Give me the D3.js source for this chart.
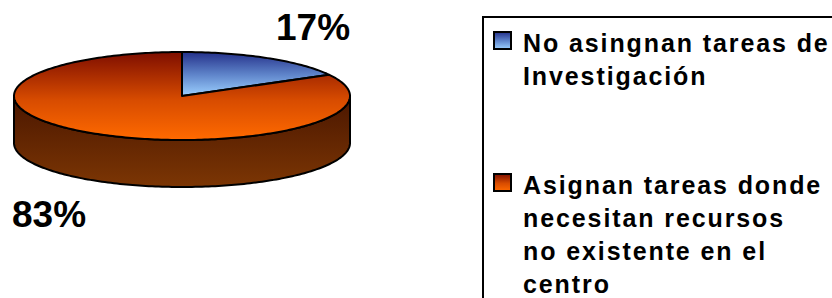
<!DOCTYPE html>
<html>
<head>
<meta charset="utf-8">
<script src="https://cdn.jsdelivr.net/npm/d3@7"></script>
<style>
  body { margin: 0; background: #fff; }
  text { font-family: "Liberation Sans", Arial, sans-serif; font-weight: bold; }
</style>
</head>
<body>
<div id="wrapper"></div>
<script>
// Chart data
const categories = ["No asingnan tareas de Investigación", "Asignan tareas donde necesitan recursos no existente en el centro"];
const values = [17, 83];
const valueLabels = ["17%", "83%"];
// legend lines, broken as in the picture
const legendLines = [
  ["No asingnan tareas de", "Investigación"],
  ["Asignan tareas donde", "necesitan recursos", "no existente en el", "centro"]
];

const width = 832, height = 298;

const svg = d3.select("#wrapper")
  .append("svg")
  .attr("width", width)
  .attr("height", height);

// gradients
const defs = svg.append("defs");
const addGrad = (id, stops) => {
  const g = defs.append("linearGradient").attr("id", id)
    .attr("x1", 0).attr("y1", 0).attr("x2", 0).attr("y2", 1);
  stops.forEach(s => g.append("stop").attr("offset", s[0]).attr("stop-color", s[1]));
};
addGrad("topBlue", [[0, "#24308a"], [0.5, "#5d82c8"], [1, "#9cd0ff"]]);
addGrad("topOrange", [[0, "#7e0e00"], [0.55, "#d84c00"], [1, "#ff6a00"]]);
addGrad("side", [[0, "#4a1600"], [1, "#7c3604"]]);
const topFills = ["url(#topBlue)", "url(#topOrange)"];

// pie geometry (tilted ellipse)
const cx = 182, cy = 96, rx = 168, ry = 44, depth = 47;

const pie = d3.pie().sort(null).value(d => d);
const arcs = pie(values);

const pt = (a, dy = 0) => [cx + rx * Math.sin(a), cy - ry * Math.cos(a) + dy];
const line = d3.line();
const sample = (a0, a1, dy) => {
  const n = Math.max(2, Math.ceil(Math.abs(a1 - a0) / 0.02));
  return d3.range(n + 1).map(i => pt(a0 + (a1 - a0) * i / n, dy));
};

// sides (only front half visible)
arcs.forEach((d, i) => {
  const a0 = Math.max(d.startAngle, Math.PI / 2);
  const a1 = Math.min(d.endAngle, Math.PI * 1.5);
  if (a1 <= a0) return;
  const pts = sample(a0, a1, 0).concat(sample(a1, a0, depth));
  svg.append("path")
    .attr("d", line(pts) + "Z")
    .attr("fill", "url(#side)")
    .attr("stroke", "#000")
    .attr("stroke-width", 2)
    .attr("stroke-linejoin", "round");
});

// top faces
arcs.forEach((d, i) => {
  const pts = [[cx, cy]].concat(sample(d.startAngle, d.endAngle, 0));
  svg.append("path")
    .attr("d", line(pts) + "Z")
    .attr("fill", topFills[i])
    .attr("stroke", "#000")
    .attr("stroke-width", 2)
    .attr("stroke-linejoin", "round");
});

// percentage labels
const labelPos = [[276, 40], [12, 227]];
svg.selectAll(".pct")
  .data(valueLabels)
  .enter()
  .append("text")
    .attr("class", "pct")
    .attr("x", (d, i) => labelPos[i][0])
    .attr("y", (d, i) => labelPos[i][1])
    .style("font-size", "37px")
    .attr("fill", "#000")
    .text(d => d);

// legend box
const legend = svg.append("g");
legend.append("rect")
  .attr("x", 483).attr("y", 17)
  .attr("width", 400).attr("height", 320)
  .attr("fill", "#fff")
  .attr("stroke", "#000")
  .attr("stroke-width", 2);

const legendTop = [32, 174];
const legendFills = ["url(#topBlue)", "url(#topOrange)"];
categories.forEach((c, i) => {
  legend.append("rect")
    .attr("x", 494).attr("y", legendTop[i])
    .attr("width", 17).attr("height", 17)
    .attr("fill", legendFills[i])
    .attr("stroke", "#000")
    .attr("stroke-width", 2);
  legend.append("text")
    .attr("x", 523)
    .attr("y", legendTop[i] + 19.5)
    .style("font-size", "25px")
    .style("letter-spacing", "1.9px")
    .attr("fill", "#000")
    .selectAll("tspan")
    .data(legendLines[i])
    .enter()
    .append("tspan")
      .attr("x", 523)
      .attr("dy", (d, j) => j === 0 ? 0 : 33.3)
      .text(d => d);
});
</script>
</body>
</html>
